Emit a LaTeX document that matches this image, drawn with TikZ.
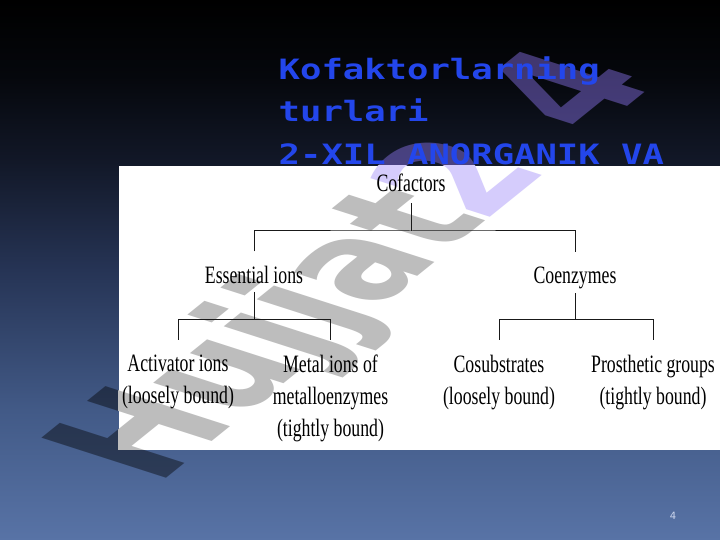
\documentclass[tikz,border=0pt]{standalone}
\usepackage{fontspec}
\newfontfamily\titlefont[FakeStretch=1.27]{DejaVu Sans Mono}
\newfontfamily\diafont[FakeStretch=0.71]{Liberation Serif}
\newfontfamily\wmfont{DejaVu Sans}
\newfontfamily\numfont{DejaVu Sans}
\definecolor{titleblue}{RGB}{35,70,235}
\definecolor{wmlav}{RGB}{150,125,255}
\definecolor{wmlavw}{RGB}{213,204,252}
\definecolor{wmgray}{RGB}{189,189,189}
\definecolor{numcol}{RGB}{205,215,238}
\definecolor{bgA}{RGB}{88,115,166}
\definecolor{bgB}{RGB}{66,90,135}
\definecolor{bgC}{RGB}{38,52,85}
\definecolor{bgD}{RGB}{18,24,40}
\definecolor{bgE}{RGB}{5,7,12}
\pgfdeclareverticalshading{bgsh}{100bp}{color(0bp)=(bgA); color(25bp)=(bgA); color(37bp)=(bgB); color(50bp)=(bgC); color(60bp)=(bgD); color(68bp)=(bgE); color(75bp)=(black); color(100bp)=(black)}
\newcommand\wmword[2]{{\color{#1}Hujjat} \kern-42pt{\color{#2}2}\kern42pt{\color{#2}4}}
\tikzset{
  wm/.style={font=\wmfont\bfseries\fontsize{100}{100}\selectfont, inner sep=0pt, anchor=base west},
  wmcm/.style={cm={0.98,0.79,-1.71,0.55,(0,0)}},
  dia/.style={font=\diafont\fontsize{25}{32}\selectfont, inner sep=0pt, align=center, text=black},
  tree/.style={draw=black!90, line width=1pt},
  titletxt/.style={font=\titlefont\bfseries\fontsize{28}{42.4}\selectfont, text=titleblue, inner sep=0pt, anchor=base west}
}
\begin{document}
\begin{tikzpicture}[x=1pt,y=1pt]
\useasboundingbox (0,0) rectangle (720,540);
% background
\shade[shading=bgsh] (0,0) rectangle (720,540);
% watermark (outside the picture area)
\begin{scope}[shift={(157,54)}]
  \node[wm, wmcm, text opacity=0.42] (wmA) at (0,0) {\wmword{black}{wmlav}};
\end{scope}
% title
\node[titletxt] (t1) at (278.5,460.7) {Kofaktorlarning};
\node[titletxt] (t2) at (278.5,418.3) {turlari};
\node[titletxt] (t3) at (278.5,375.9) {2-XIL ANORGANIK VA};
% white picture
\fill[white] (118.5,90) rectangle (720,374);
\begin{scope}
  \clip (118.5,90) rectangle (720,374);
  \begin{scope}[shift={(157,54)}]
    \node[wm, wmcm] (wmB) at (0,0) {\wmword{wmgray}{wmlavw}};
  \end{scope}
\end{scope}
% diagram
\node[dia, anchor=base] (cof) at (411,348) {Cofactors};
\node[dia, anchor=base] (ess) at (254,256.5) {Essential ions};
\node[dia, anchor=base] (coe) at (575,256) {Coenzymes};
\node[dia, anchor=north] (act) at (178,185) {Activator ions\\(loosely bound)};
\node[dia, anchor=north] (met) at (330.5,185) {Metal ions of\\metalloenzymes\\(tightly bound)};
\node[dia, anchor=north] (cos) at (499,185) {Cosubstrates\\(loosely bound)};
\node[dia, anchor=north] (pro) at (653,185) {Prosthetic groups\\(tightly bound)};
\coordinate (b1) at (411,309);
\coordinate (b2) at (254,220.5);
\coordinate (b3) at (575,220.5);
\draw[tree] ([yshift=-11pt]cof.south) -- (b1);
\draw[tree] ([yshift=14.5pt]ess.north) |- (b1) -| ([yshift=15pt]coe.north);
\draw[tree] ([yshift=-8pt]ess.south) -- (b2);
\draw[tree] ([yshift=15pt]act.north) |- (b2) -| ([yshift=15pt]met.north);
\draw[tree] ([yshift=-3.6pt]coe.south) -- (b3);
\draw[tree] ([yshift=15pt]cos.north) |- (b3) -| ([yshift=15pt]pro.north);
% page number
\node[font=\numfont\fontsize{10}{12}\selectfont, text=numcol, inner sep=0pt] (pg) at (673,24) {4};
\end{tikzpicture}
\end{document}
